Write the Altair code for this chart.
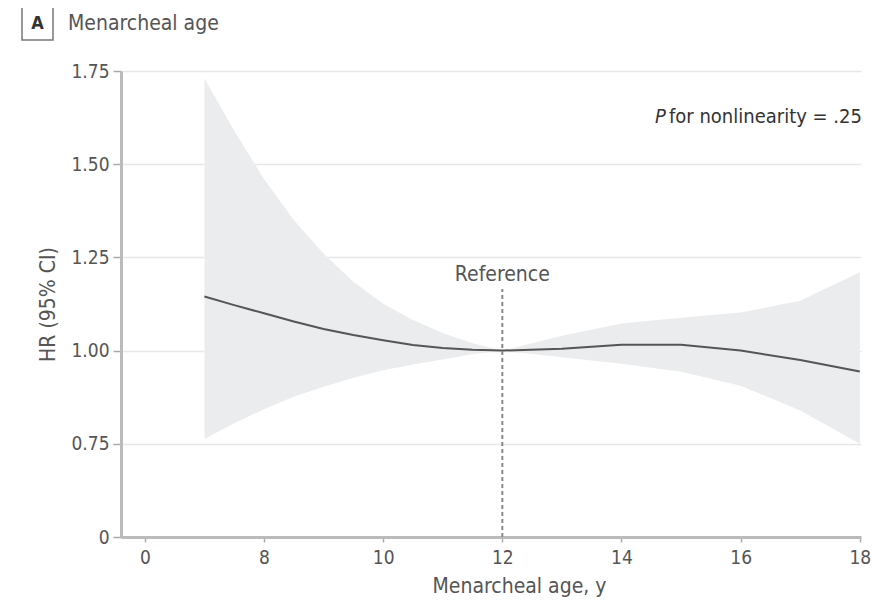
import altair as alt
import pandas as pd

ages = [7, 7.5, 8, 8.5, 9, 9.5, 10, 10.5, 11, 11.5, 12, 13, 14, 15, 16, 17, 18]
hr = [1.145, 1.122, 1.100, 1.078, 1.058, 1.042, 1.028, 1.015, 1.007, 1.002, 1.000,
      1.005, 1.016, 1.016, 1.000, 0.975, 0.944]
upper = [1.730, 1.590, 1.460, 1.350, 1.260, 1.185, 1.126, 1.082, 1.047, 1.020, 1.000,
         1.040, 1.073, 1.088, 1.102, 1.134, 1.210]
lower = [0.763, 0.805, 0.843, 0.876, 0.903, 0.927, 0.947, 0.963, 0.976, 0.990, 1.000,
         0.982, 0.965, 0.943, 0.906, 0.839, 0.750]

x_ticks = [6, 8, 10, 12, 14, 16, 18]
y_ticks = [0.5, 0.75, 1.0, 1.25, 1.5, 1.75]
ref_age = [12]

df = pd.DataFrame({"age": ages, "hr": hr, "upper": upper, "lower": lower})
ref_df = pd.DataFrame({"age": ref_age, "lo": [0.5], "hi": [1.165], "lab": ["Reference"]})

FONT = "'Liberation Sans Narrow', 'DejaVu Sans Condensed', Roboto, sans-serif"
GREY = "#555555"

xscale = alt.Scale(domain=[5.6, 18.02], nice=False, zero=False)
yscale = alt.Scale(domain=[0.5, 1.75], nice=False, zero=False)

x_enc = alt.X("age:Q", scale=xscale, title="Menarcheal age, y",
              axis=alt.Axis(values=x_ticks, grid=False,
                            labelExpr="datum.value == 6 ? '0' : format(datum.value, 'd')",
                            tickSize=5, labelPadding=6, titlePadding=8,
                            titleX=398, titleAnchor="middle"))
y_axis = alt.Axis(values=y_ticks, grid=True, gridColor="#e8e8e8", gridWidth=1.5,
                  labelExpr="datum.value == 0.5 ? '0' : format(datum.value, '.2f')",
                  tickSize=8, labelPadding=4, titlePadding=12)

band = alt.Chart(df).mark_area(color="#ebeced", opacity=1).encode(
    x=x_enc,
    y=alt.Y("lower:Q", scale=yscale, title="HR (95% CI)", axis=y_axis),
    y2="upper:Q",
)

line = alt.Chart(df).mark_line(color=GREY, strokeWidth=2).encode(
    x="age:Q", y="hr:Q"
)

ref_rule = alt.Chart(ref_df).mark_rule(color="#888888", strokeWidth=2, strokeDash=[4, 3]).encode(
    x="age:Q", y="lo:Q", y2="hi:Q"
)
ref_text = alt.Chart(ref_df).mark_text(font=FONT, fontSize=21, color=GREY, baseline="bottom",
                                       dy=-4).encode(
    x="age:Q", y="hi:Q", text="lab:N"
)

p_txt = alt.Chart(pd.DataFrame({"t": ["P"]})).mark_text(
    font=FONT, fontSize=20, fontStyle="italic", color="#333333", align="left", baseline="middle"
).encode(x=alt.value(534), y=alt.value(46), text="t:N")
p_rest = alt.Chart(pd.DataFrame({"t": ["for nonlinearity = .25"]})).mark_text(
    font=FONT, fontSize=20, color="#333333", align="left", baseline="middle"
).encode(x=alt.value(548), y=alt.value(46), text="t:N")

box = alt.Chart(pd.DataFrame({"a": [0]})).mark_rect(
    fill="white", stroke="#777777", strokeWidth=1.5
).encode(x=alt.value(-99), x2=alt.value(-68), y=alt.value(-64), y2=alt.value(-31))
box_a = alt.Chart(pd.DataFrame({"t": ["A"]})).mark_text(
    font=FONT, fontSize=18, fontWeight="bold", color="#333333", align="center", baseline="middle"
).encode(x=alt.value(-83.5), y=alt.value(-47), text="t:N")
title_t = alt.Chart(pd.DataFrame({"t": ["Menarcheal age"]})).mark_text(
    font=FONT, fontSize=21, color=GREY, align="left", baseline="middle"
).encode(x=alt.value(-53), y=alt.value(-47), text="t:N")

chart = alt.layer(band, line, ref_rule, ref_text, p_txt, p_rest, box, box_a, title_t).properties(
    width=740, height=466,
    autosize=alt.AutoSizeParams(type="none"),
    padding={"left": 113, "top": 63, "right": 12, "bottom": 64},
    background="white",
).configure_view(stroke=None, clip=False).configure_axis(
    domainColor="#bbbbbb", domainWidth=3, tickColor="#aaaaaa", tickWidth=1.5,
    labelFont=FONT, labelFontSize=19, labelColor=GREY,
    titleFont=FONT, titleFontSize=21, titleColor=GREY, titleFontWeight="normal",
)

chart.save("out.html", embed_options={"renderer": "svg", "actions": False})
